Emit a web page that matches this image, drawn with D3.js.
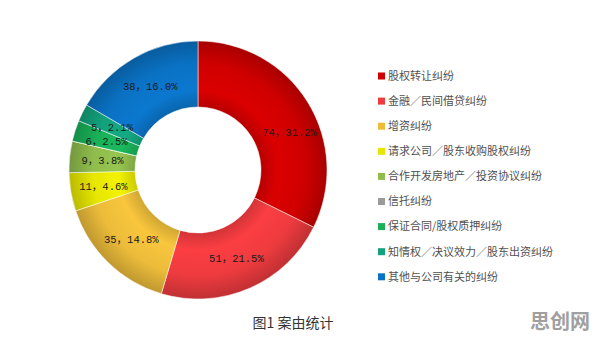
<!DOCTYPE html>
<html>
<head>
<meta charset="utf-8">
<script src="https://cdn.jsdelivr.net/npm/d3@7"></script>
<style>
  body { margin: 0; background: #fff; }
  svg { display: block; }
</style>
</head>
<body>
<div id="chart"></div>
<script>
//categories in legend order (clockwise from 12 o'clock)
var categories = [
  "股权转让纠纷",
  "金融／民间借贷纠纷",
  "增资纠纷",
  "请求公司／股东收购股权纠纷",
  "合作开发房地产／投资协议纠纷",
  "信托纠纷",
  "保证合同/股权质押纠纷",
  "知情权／决议效力／股东出资纠纷",
  "其他与公司有关的纠纷"
];
//case counts
var counts = [74, 51, 35, 11, 9, 0, 6, 5, 38];
//percent labels as printed on the chart
var percents = ["31.2%", "21.5%", "14.8%", "4.6%", "3.8%", "0.0%", "2.5%", "2.1%", "16.0%"];
var colors = ["#d00000", "#ee3b3f", "#ecbc3a", "#e6e600", "#8fbc4c", "#9a9a9a", "#19b058", "#13a27c", "#0a72c4"];

var w = 596;
var h = 346;
var cx = 198;
var cy = 170;
var outerR = 129;
var innerR = 63;

var svg = d3.select("#chart")
  .append("svg")
  .attr("width", w)
  .attr("height", h);

var data = categories.map(function (c, i) {
  return { name: c, count: counts[i], pct: percents[i], color: colors[i] };
});

//pie layout, keep original order
var pie = d3.pie()
  .sort(null)
  .value(function (d) { return d.count; });

var arc = d3.arc().innerRadius(innerR).outerRadius(outerR);
var labelArc = d3.arc().innerRadius(96).outerRadius(96);

//radial shading per slice, like the office 3d look
var defs = svg.append("defs");
data.forEach(function (d, i) {
  var base = d3.color(d.color);
  var g = defs.append("radialGradient")
    .attr("id", "grad" + i)
    .attr("gradientUnits", "userSpaceOnUse")
    .attr("cx", 0).attr("cy", 0).attr("r", outerR);
  g.append("stop").attr("offset", innerR / outerR).attr("stop-color", base.darker(0.35));
  g.append("stop").attr("offset", 0.62).attr("stop-color", base.brighter(0.15));
  g.append("stop").attr("offset", 0.82).attr("stop-color", base);
  g.append("stop").attr("offset", 1).attr("stop-color", base.darker(0.6));
});

var ring = svg.append("g")
  .attr("transform", "translate(" + cx + "," + cy + ")");

ring.selectAll("path")
  .data(pie(data))
  .enter()
  .append("path")
  .attr("d", arc)
  .attr("fill", function (d, i) { return "url(#grad" + i + ")"; })
  .attr("stroke", "#fff")
  .attr("stroke-width", 0.5);

//slice labels "count，percent"
ring.selectAll("text")
  .data(pie(data).filter(function (d) { return d.data.count > 0; }))
  .enter()
  .append("text")
  .attr("transform", function (d, i) {
    var c = labelArc.centroid(d);
    //first label sits a bit further out in the original
    if (i === 0) { c[0] += 10; c[1] += 13; }
    return "translate(" + c[0] + "," + c[1] + ")";
  })
  .attr("text-anchor", "middle")
  .attr("dy", "0.35em")
  .style("font-family", "'Liberation Mono', 'DejaVu Sans Mono', 'Noto Sans CJK SC', monospace")
  .style("font-size", "10.5px")
  .style("fill", "#1a1a1a")
  .text(function (d) { return d.data.count + "，" + d.data.pct; });

//legend
var legend = svg.append("g")
  .attr("transform", "translate(378,76)");

var rows = legend.selectAll("g")
  .data(data)
  .enter()
  .append("g")
  .attr("transform", function (d, i) { return "translate(0," + i * 25.1 + ")"; });

rows.append("rect")
  .attr("x", 0)
  .attr("y", -3.5)
  .attr("width", 7)
  .attr("height", 7)
  .attr("fill", function (d) { return d.color; });

rows.append("text")
  .attr("x", 10)
  .attr("y", 0)
  .attr("dy", "0.35em")
  .style("font-family", "'Noto Sans CJK SC', sans-serif")
  .style("font-size", "11px")
  .style("fill", "#505050")
  .text(function (d) { return d.name; });

//caption
svg.append("text")
  .attr("x", 293)
  .attr("y", 323)
  .attr("dy", "0.35em")
  .attr("text-anchor", "middle")
  .style("font-family", "'Noto Sans CJK SC', sans-serif")
  .style("font-size", "14px")
  .style("fill", "#333")
  .text("图1 案由统计");

//watermark
svg.append("text")
  .attr("x", 560)
  .attr("y", 322)
  .attr("dy", "0.35em")
  .attr("text-anchor", "middle")
  .style("font-family", "'Noto Sans CJK SC', sans-serif")
  .style("font-size", "20px")
  .style("font-weight", "bold")
  .style("fill", "#a0a0a0")
  .text("思创网");
</script>
</body>
</html>
